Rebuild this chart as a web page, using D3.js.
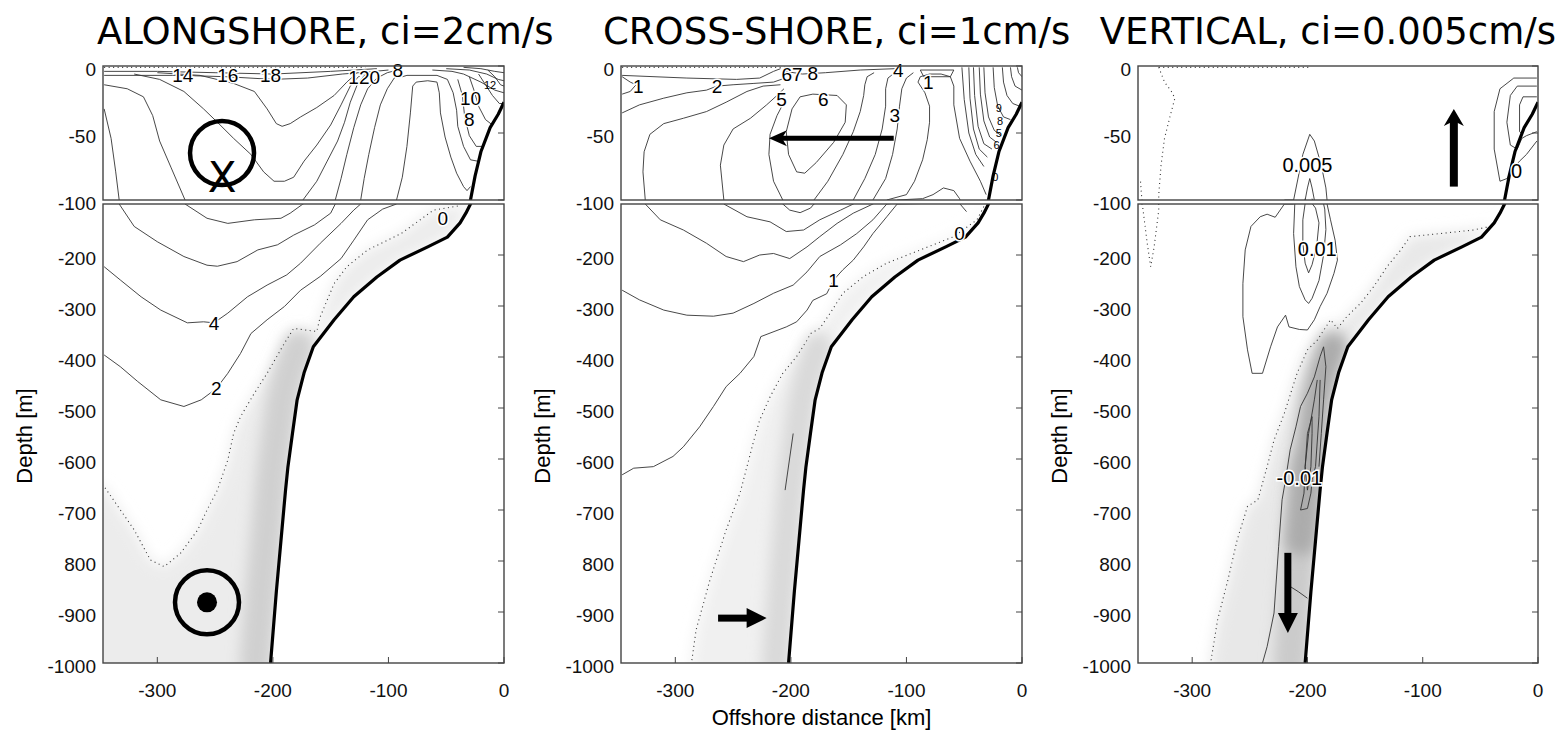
<!DOCTYPE html>
<html><head><meta charset="utf-8">
<script src="https://cdn.jsdelivr.net/npm/d3@7"></script>
<style>
body{margin:0;background:#fff;overflow:hidden;}
svg text{font-family:"Liberation Sans",Arial,Helvetica,sans-serif;}
</style></head><body>
<svg id="c" width="1564" height="733"></svg>
<script>
// ---------------- DATA ----------------
const titles = ["ALONGSHORE, ci=2cm/s", "CROSS-SHORE, ci=1cm/s", "VERTICAL, ci=0.005cm/s"];
const xDomain = [-347, 0];
const xTicks = [-300, -200, -100, 0];
const xTickLabels = ["-300", "-200", "-100", "0"];
const yTicksTop = [0, -50, -100];
const yTickLabelsTop = ["0", "-50", "-100"];
const yTicksBottom = [-200, -300, -400, -500, -600, -700, -800, -900, -1000];
const yTickLabelsBottom = ["-200", "-300", "-400", "-500", "-600", "-700", "800", "-900", "-1000"];
const yLabel = "Depth [m]";
const xLabel = "Offshore distance [km]";

// bathymetry [km, m]
const bathymetry = [[0,-27],[-5,-36],[-12,-46],[-20,-64],[-25,-82],[-29,-100],[-33,-118],[-38,-137],[-49,-165],[-66,-184],[-90,-210],[-110,-243],[-130,-282],[-147,-327],[-165,-380],[-173,-431],[-179,-484],[-183,-549],[-187,-616],[-189,-660],[-193,-760],[-197,-860],[-202,-1000]];

// ---- ALONGSHORE contours ----
const along_A = [[-346,-14],[-326,-17],[-312,-23],[-304,-37],[-298,-56],[-288,-76],[-276,-100],[-257,-128],[-239,-138],[-216,-131],[-193,-128],[-185,-118],[-174,-100],[-162,-86],[-153,-71],[-144,-56],[-138,-42],[-133,-27],[-127,-14],[-121,-7],[-112,-4],[-100,-3]];
const along_B = [[-346,-32],[-340,-54],[-336,-79],[-333,-100],[-320,-144],[-300,-174],[-277,-203],[-257,-220],[-248,-222],[-231,-213],[-213,-190],[-196,-180],[-182,-161],[-164,-141],[-150,-118],[-146,-100],[-141,-84],[-136,-66],[-130,-46],[-124,-29],[-118,-17],[-110,-9],[-101,-5],[-92,-3]];
const along_C = [[-346,-223],[-332,-249],[-314,-282],[-297,-308],[-274,-333],[-260,-331],[-251,-333],[-239,-314],[-222,-282],[-205,-259],[-188,-239],[-176,-216],[-159,-177],[-141,-138],[-130,-112],[-124,-100],[-121,-84],[-117,-66],[-112,-46],[-107,-29],[-101,-17],[-95,-9],[-89,-5]];
const along_D = [[-346,-396],[-332,-419],[-317,-448],[-297,-484],[-277,-497],[-262,-484],[-249,-462],[-239,-432],[-228,-393],[-219,-354],[-205,-327],[-190,-301],[-176,-269],[-159,-242],[-141,-207],[-130,-171],[-118,-131],[-105,-110],[-93,-100],[-88,-83],[-84,-60],[-81,-35],[-79,-15],[-76,-12],[-66,-11],[-58,-12],[-56,-20],[-55,-35],[-51,-53],[-46,-68],[-41,-80],[-35,-90],[-32,-93],[-29,-90]];
const along_bowlLow = [[-320,-6],[-298,-10],[-277,-19],[-260,-32],[-248,-42],[-234,-54],[-219,-66],[-208,-79],[-199,-86],[-190,-86],[-182,-83],[-173,-71],[-162,-59],[-150,-44],[-141,-29],[-133,-15],[-126,-8],[-118,-4]];
const along_bowlUp = [[-300,-5],[-263,-7],[-234,-13],[-216,-19],[-205,-32],[-197,-43],[-192,-45],[-185,-43],[-176,-38],[-162,-31],[-147,-22],[-136,-12],[-127,-5]];
const along_E = [[-88,-8],[-84,-7],[-58,-7],[-49,-10],[-44,-20],[-41,-33],[-40,-45],[-35,-60],[-29,-70],[-23,-71]];
const along_s1 = [[-346,-4],[-300,-4],[-250,-5],[-200,-6],[-150,-4],[-110,-2]];
const along_s2 = [[-346,-7],[-280,-7],[-240,-8],[-200,-10],[-170,-9],[-140,-6],[-110,-4]];
const along_f1 = [[-62,-3],[-45,-4],[-35,-6],[-20,-12],[-8,-18],[0,-20]];
const along_f2 = [[-50,-2],[-30,-3],[-15,-6],[-5,-10],[0,-11]];
const along_f3 = [[-35,-1],[-20,-2],[-8,-4],[0,-5]];
const along_f4 = [[-40,-10],[-36,-22],[-34,-38],[-30,-52],[-24,-60],[-18,-60]];
const along_f5 = [[-30,-8],[-26,-18],[-22,-30],[-16,-40],[-10,-44]];
const along_f6 = [[-22,-6],[-16,-14],[-10,-22],[-4,-28],[0,-28]];
const along_f7 = [[-14,-3],[-8,-8],[-3,-14],[0,-15]];
const along_zero = [[-40,-104],[-61,-112],[-89,-158],[-118,-190],[-136,-223],[-147,-256],[-159,-321],[-162,-350],[-182,-344],[-190,-373],[-205,-432],[-216,-471],[-228,-517],[-234,-550],[-239,-602],[-248,-661],[-257,-700],[-265,-739],[-280,-785],[-294,-811],[-306,-798],[-320,-739],[-342,-667],[-346,-654]];
const along_surfDot = [[-346,-1],[-120,-1]];
const along_labels = [["14",-278,-7],["16",-239,-7],["18",-202,-7],["120",-121,-8],["8",-92,-3],["10",-29,-24],["8",-30,-40],["4",-251,-333],["2",-249,-462],["0",-53,-128]];
const along_smallLabels = [["12",-12,-14]];
const alongInto = [-244,-65];
const alongIntoMark = [-244,-94];
const alongOut = [-257,-881];

// ---- CROSS-SHORE contours ----
const cross_b1 = [[-206,-27],[-212,-37],[-218,-51],[-219,-66],[-215,-86],[-207,-100],[-201,-112],[-192,-117],[-183,-108],[-180,-100],[-168,-86],[-155,-66],[-146,-49],[-140,-34],[-137,-22],[-136,-14],[-134,-8],[-128,-5]];
const cross_b2 = [[-206,-17],[-212,-22],[-221,-29],[-235,-39],[-250,-47],[-258,-59],[-261,-74],[-258,-100],[-238,-125],[-218,-135],[-204,-154],[-189,-151],[-175,-131],[-157,-112],[-146,-100],[-136,-84],[-127,-66],[-121,-47],[-118,-30],[-118,-17],[-116,-9],[-110,-5]];
const cross_b3 = [[-209,-14],[-224,-15],[-238,-19],[-256,-27],[-273,-34],[-293,-39],[-310,-43],[-322,-51],[-327,-64],[-328,-79],[-326,-100],[-313,-131],[-293,-151],[-273,-177],[-256,-203],[-241,-213],[-227,-200],[-215,-197],[-201,-207],[-186,-184],[-175,-164],[-160,-138],[-146,-118],[-129,-100],[-118,-84],[-112,-66],[-108,-47],[-106,-30],[-104,-17],[-100,-9],[-94,-5]];
const cross_4 = [[-346,-269],[-331,-288],[-310,-308],[-290,-318],[-267,-320],[-250,-314],[-232,-295],[-215,-275],[-198,-259],[-186,-233],[-175,-203],[-157,-180],[-143,-158],[-129,-131],[-117,-100],[-100,-96],[-93,-86],[-86,-70],[-82,-55],[-80,-42],[-80,-30],[-84,-20],[-90,-12],[-88,-8],[-80,-6],[-70,-6],[-62,-8],[-59,-15],[-59,-29],[-54,-54],[-45,-71],[-36,-86],[-31,-96]];
const cross_1 = [[-346,-631],[-336,-618],[-319,-615],[-302,-595],[-293,-576],[-279,-537],[-267,-497],[-256,-458],[-244,-432],[-232,-399],[-226,-360],[-204,-341],[-195,-331],[-186,-308],[-181,-289],[-169,-276],[-163,-249],[-155,-229],[-146,-210],[-137,-184],[-129,-158],[-117,-125],[-108,-100],[-86,-99],[-77,-96],[-68,-91],[-59,-93],[-54,-99],[-48,-115]];
const cross_loopL = [[-346,-8],[-339,-12],[-334,-14],[-339,-19],[-346,-21]];
const cross_2 = [[-346,-35],[-331,-29],[-310,-24],[-290,-20],[-273,-18],[-264,-15],[-250,-14],[-232,-13],[-215,-12],[-205,-9]];
const cross_surf = [[-346,-7],[-290,-9],[-247,-10],[-227,-9],[-215,-4],[-209,-2]];
const cross_6 = [[-195,-79],[-202,-66],[-204,-49],[-199,-32],[-192,-23],[-181,-21],[-160,-22],[-152,-29],[-153,-42],[-163,-57],[-178,-72],[-188,-80],[-195,-79]];
const cross_top = [[-205,-4],[-190,-6],[-170,-5],[-140,-3],[-110,-2]];
const cross_loopS = [[-88,-3],[-59,-3],[-62,-8],[-85,-8],[-88,-3]];
const cross_r1 = [[-52,-1],[-50,-25],[-46,-50],[-40,-66],[-33,-75]];
const cross_r2 = [[-46,-1],[-45,-24],[-42,-47],[-37,-62],[-30,-68]];
const cross_r3 = [[-42,-1],[-41,-22],[-38,-45],[-33,-58],[-26,-62]];
const cross_r4 = [[-37,-1],[-36,-21],[-33,-41],[-28,-53],[-22,-57]];
const cross_r5 = [[-33,-1],[-32,-20],[-29,-38],[-24,-48],[-18,-52]];
const cross_r6 = [[-25,-1],[-24,-16],[-21,-30],[-16,-38],[-10,-40]];
const cross_r7 = [[-17,-1],[-16,-12],[-13,-22],[-8,-28],[-2,-30]];
const cross_r8 = [[-10,-1],[-9,-8],[-6,-15],[0,-18]];
const cross_r9 = [[-4,-1],[-3,-5],[0,-8]];
const cross_seg = [[-198,-550],[-205,-661]];
const cross_zero = [[-33,-105],[-39,-131],[-59,-164],[-88,-190],[-117,-216],[-137,-242],[-155,-275],[-166,-314],[-175,-344],[-183,-354],[-186,-367],[-195,-399],[-207,-432],[-218,-478],[-227,-524],[-232,-563],[-238,-615],[-244,-667],[-256,-739],[-270,-837],[-282,-935],[-286,-1000]];
const cross_surfDot = [[-346,-1],[-200,-1]];
const cross_labels = [["1",-332,-15],["2",-264,-15],["67",-199,-6],["8",-181,-5],["5",-208,-25],["6",-172,-25],["4",-107,-3],["1",-81,-12],["3",-110,-37],["0",-54,-158],["1",-163,-249]];
const cross_smallLabels = [["9",-20,-31],["8",-19,-41],["5",-20,-50],["6",-22,-59],["0",-23,-83]];
const crossArrowTop = [[-111,-54],[-219,-54]];
const crossArrowBot = [[-263,-912],[-221,-912]];

// ---- VERTICAL contours ----
const vert_A = [[-212,-100],[-204,-66],[-198,-51],[-194,-56],[-188,-74],[-184,-91],[-183,-100],[-180,-131],[-176,-171],[-174,-210],[-177,-236],[-183,-275],[-189,-301],[-194,-327],[-200,-347],[-207,-346],[-216,-341],[-219,-318],[-226,-341],[-232,-380],[-239,-432],[-248,-432],[-252,-386],[-256,-321],[-256,-256],[-254,-190],[-249,-144],[-241,-125],[-235,-120],[-228,-126],[-220,-100],[-212,-100]];
const vert_Btop = [[-202,-100],[-200,-91],[-198,-84],[-196,-91],[-194,-100]];
const vert_B = [[-211,-100],[-212,-158],[-210,-223],[-207,-262],[-202,-288],[-199,-295],[-196,-285],[-190,-250],[-186,-200],[-184,-150],[-185,-110],[-186,-100]];
const vert_C = [[-202,-99],[-204,-131],[-204,-177],[-202,-216],[-199,-235],[-196,-219],[-192,-183],[-190,-137],[-193,-108],[-196,-99]];
const vert_N1 = [[-239,-1000],[-235,-968],[-229,-902],[-225,-772],[-222,-680],[-219,-641],[-215,-582],[-210,-537],[-206,-497],[-200,-471],[-194,-439],[-189,-399],[-186,-380],[-184,-419],[-186,-484],[-188,-550],[-190,-615]];
const vert_N1b = [[-215,-850],[-208,-860],[-200,-873]];
const vert_N2 = [[-191.5,-445],[-194,-484],[-199,-550],[-202,-615],[-203,-667],[-206,-700],[-200,-697],[-197,-667],[-196,-641],[-193,-615],[-190,-517],[-189,-445]];
const vert_N3 = [[-196,-517],[-200,-550],[-202,-615],[-200,-661],[-197,-615],[-196,-550],[-196,-517]];
const vert_O1 = [[-1,-9],[-21,-9],[-33,-17],[-38,-34],[-38,-62],[-33,-86],[-27,-84],[-21,-76],[-16,-71],[-10,-66],[-1,-56]];
const vert_O2 = [[-1,-15],[-18,-15],[-24,-22],[-27,-42],[-24,-59],[-18,-62],[-14,-54],[-10,-52],[-1,-49]];
const vert_O3 = [[-1,-23],[-13,-23],[-16,-29],[-16,-49],[-13,-51]];
const vert_zero = [[-38,-137],[-41.5,-144],[-56,-151],[-85,-158],[-111,-164],[-119,-190],[-131,-223],[-142.5,-262],[-154,-295],[-166,-321],[-174,-344],[-180,-327],[-184,-341],[-191.5,-367],[-200,-386],[-209,-432],[-220,-510],[-229,-563],[-235,-615],[-243,-680],[-252,-693],[-261,-759],[-269,-837],[-278,-916],[-284,-1000]];
const vert_surfDot = [[-329,-1],[-197,-1]];
const vert_leftDot = [[-329,-1],[-324,-12],[-318,-19],[-315,-24],[-319,-37],[-324,-54],[-327,-74],[-329,-96],[-329,-112],[-333,-184],[-336,-223],[-339,-177],[-343,-105],[-344,-96],[-345,-84]];
const vert_labels = [["0.005",-200,-74],["0.01",-191.5,-187],["-0.01",-207,-636],["0",-18.5,-78]];
const vertArrowUp = [[-73,-90],[-73,-32]];
const vertArrowDown = [[-217,-784],[-217,-941]];

// ---------------- LAYOUT / STYLE ----------------
const TOP = [66, 200], BOT = [204, 663];
const panelX = [[103, 504], [621, 1022], [1138, 1538]];

const panels = [
  { lines: [along_A, along_B, along_C, along_D, along_bowlLow, along_bowlUp, along_E, along_s1, along_s2, along_f1, along_f2, along_f3, along_f4, along_f5, along_f6, along_f7],
    dotted: [along_zero, along_surfDot], zero: along_zero, zeroLeftEdge: true,
    labels: along_labels, small: along_smallLabels, arrows: [], labelSize: 19,
    shade: {fill: "#ececec", cores: [{c: "#d0d0d0", from: -330, to: -1000, w: 32, shift: -15}]} },
  { lines: [cross_b1, cross_b2, cross_b3, cross_4, cross_1, cross_loopL, cross_2, cross_surf, cross_6, cross_top, cross_loopS, cross_r1, cross_r2, cross_r3, cross_r4, cross_r5, cross_r6, cross_r7, cross_r8, cross_r9, cross_seg],
    dotted: [cross_zero, cross_surfDot], zero: cross_zero, zeroLeftEdge: false,
    labels: cross_labels, small: cross_smallLabels, labelSize: 19,
    arrows: [{p: crossArrowTop, w: 5, L: 18, hw: 8, n: 5}, {p: crossArrowBot, w: 7, L: 20, hw: 10, n: 0}],
    shade: {fill: "#f0f0f0", cores: [{c: "#d9d9d9", from: -350, to: -1000, w: 28, shift: -13}]} },
  { lines: [vert_A, vert_Btop, vert_B, vert_C, vert_N1, vert_N1b, vert_N2, vert_N3, vert_O1, vert_O2, vert_O3],
    dotted: [vert_zero, vert_surfDot, vert_leftDot], zero: vert_zero, zeroLeftEdge: false,
    labels: vert_labels, small: [], labelSize: 20,
    arrows: [{p: vertArrowUp, w: 8, L: 17, hw: 10, n: 5}, {p: vertArrowDown, w: 7, L: 20, hw: 10, n: 0}],
    shade: {fill: "#e8e8e8", cores: [{c: "#cbcbcb", from: -600, to: -1000, w: 34, shift: -15}, {c: "#acacac", from: -380, to: -820, w: 30, shift: -15}]} }
];

const svg = d3.select("#c");
const defs = svg.append("defs");
function blur(id, s) {
  defs.append("filter").attr("id", id).attr("filterUnits", "userSpaceOnUse")
    .attr("x", 0).attr("y", 0).attr("width", 1564).attr("height", 733)
    .append("feGaussianBlur").attr("stdDeviation", s);
}
blur("blurA", 7); blur("blurB", 7);

// titles
const tstyle = s => s.style("font-family", "DejaVu Sans").style("font-size", "37px").attr("fill", "#000");
tstyle(svg.append("text").attr("x", 97).attr("y", 44).attr("text-anchor", "start").text(titles[0]));
tstyle(svg.append("text").attr("x", 603).attr("y", 44).attr("text-anchor", "start").text(titles[1]));
tstyle(svg.append("text").attr("x", 1556).attr("y", 44).attr("text-anchor", "end").text(titles[2]));

function drawArrow(g, sx, sy, tx, ty, a) {
  const dx = tx - sx, dy = ty - sy, len = Math.hypot(dx, dy);
  const ux = dx / len, uy = dy / len, px = -uy, py = ux;
  const bx = tx - ux * a.L, by = ty - uy * a.L;
  const nx = tx - ux * (a.L - a.n), ny = ty - uy * (a.L - a.n);
  g.append("line").attr("x1", sx).attr("y1", sy).attr("x2", nx + ux * 0.5).attr("y2", ny + uy * 0.5)
    .attr("stroke", "#000").attr("stroke-width", a.w);
  g.append("path").attr("d", `M${tx},${ty}L${bx + px * a.hw},${by + py * a.hw}L${nx},${ny}L${bx - px * a.hw},${by - py * a.hw}Z`).attr("fill", "#000");
}

panels.forEach((P, i) => {
  const x = d3.scaleLinear().domain(xDomain).range(panelX[i]);
  const yT = d3.scaleLinear().domain([0, -100]).range(TOP);
  const yB = d3.scaleLinear().domain([-100, -1000]).range(BOT);
  const yAny = d => d >= -100 ? yT(d) : yB(d);
  const [x0, x1] = panelX[i];

  defs.append("clipPath").attr("id", "cT" + i).append("rect").attr("x", x0).attr("y", TOP[0]).attr("width", x1 - x0).attr("height", TOP[1] - TOP[0]);
  defs.append("clipPath").attr("id", "cB" + i).append("rect").attr("x", x0).attr("y", BOT[0]).attr("width", x1 - x0).attr("height", BOT[1] - BOT[0]);
  const ocean = bathymetry.concat([[xDomain[0] - 60, -1000], [xDomain[0] - 60, -100]]);
  defs.append("clipPath").attr("id", "cO" + i).append("path")
    .attr("d", d3.line().x(p => x(p[0])).y(p => yB(p[1]))(ocean) + "Z");

  // ---- shading (bottom box) ----
  const gB0 = svg.append("g").attr("clip-path", `url(#cB${i})`);
  const gS = gB0.append("g").attr("clip-path", `url(#cO${i})`);
  const deep = bathymetry.filter(p => p[1] <= -100).slice().reverse();
  const last = P.zero[P.zero.length - 1];
  let region;
  if (P.zeroLeftEdge) {
    region = P.zero.concat([[xDomain[0] - 30, last[1]], [xDomain[0] - 30, -1040], [deep[0][0], -1040]], deep);
  } else {
    region = P.zero.concat([[last[0], -1040], [deep[0][0], -1040]], deep);
  }
  const lineB = d3.line().x(p => x(p[0])).y(p => yB(p[1]));
  gS.append("path").attr("d", lineB(region) + "Z").attr("fill", P.shade.fill).attr("filter", "url(#blurA)");
  P.shade.cores.forEach(cr => {
    gS.append("path").attr("d", lineB(bathymetry.filter(p => p[1] <= cr.from && p[1] >= cr.to)))
      .attr("fill", "none").attr("stroke", cr.c).attr("stroke-width", cr.w)
      .attr("stroke-linecap", "round")
      .attr("transform", `translate(${cr.shift},0)`).attr("filter", "url(#blurB)");
  });

  // ---- lines in both boxes ----
  [[yT, "cT" + i], [yB, "cB" + i]].forEach(([y, cid]) => {
    const g = svg.append("g").attr("clip-path", `url(#${cid})`);
    const line = d3.line().x(p => x(p[0])).y(p => y(p[1]));
    g.selectAll("path.c").data(P.lines).join("path").attr("class", "c")
      .attr("d", line).attr("fill", "none").attr("stroke", "#333").attr("stroke-width", 0.9).attr("stroke-linejoin", "round");
    g.selectAll("path.z").data(P.dotted).join("path").attr("class", "z")
      .attr("d", line).attr("fill", "none").attr("stroke", "#333").attr("stroke-width", 1.1).attr("stroke-dasharray", "1,3.5");
    g.append("path").attr("d", line(bathymetry)).attr("fill", "none").attr("stroke", "#000").attr("stroke-width", 3.2).attr("stroke-linejoin", "round");
  });

  // ---- contour labels ----
  const gl = svg.append("g");
  gl.selectAll("text.l").data(P.labels).join("text").attr("class", "l")
    .attr("x", d => x(d[1])).attr("y", d => yAny(d[2])).attr("dy", "0.36em").attr("text-anchor", "middle")
    .style("font-size", P.labelSize + "px").attr("fill", "#000")
    .attr("stroke", "#fff").attr("stroke-width", 3).attr("paint-order", "stroke")
    .text(d => d[0]);
  gl.selectAll("text.s").data(P.small).join("text").attr("class", "s")
    .attr("x", d => x(d[1])).attr("y", d => yAny(d[2])).attr("dy", "0.36em").attr("text-anchor", "middle")
    .style("font-size", "11px").attr("fill", "#000")
    .text(d => d[0]);

  // ---- frames ----
  svg.append("rect").attr("x", x0).attr("y", TOP[0]).attr("width", x1 - x0).attr("height", TOP[1] - TOP[0]).attr("fill", "none").attr("stroke", "#444").attr("stroke-width", 1.4);
  svg.append("rect").attr("x", x0).attr("y", BOT[0]).attr("width", x1 - x0).attr("height", BOT[1] - BOT[0]).attr("fill", "none").attr("stroke", "#444").attr("stroke-width", 1.4);

  // ---- ticks & labels ----
  const ga = svg.append("g").attr("fill", "#111").style("font-size", "19px");
  yTicksTop.forEach((t, k) => {
    ga.append("line").attr("x1", x1 - 6).attr("x2", x1).attr("y1", yT(t)).attr("y2", yT(t)).attr("stroke", "#444");
    ga.append("text").attr("x", x0 - 7).attr("y", yT(t) + 3).attr("dy", "0.36em").attr("text-anchor", "end").text(yTickLabelsTop[k]);
  });
  yTicksBottom.forEach((t, k) => {
    ga.append("line").attr("x1", x1 - 6).attr("x2", x1).attr("y1", yB(t)).attr("y2", yB(t)).attr("stroke", "#444");
    ga.append("text").attr("x", x0 - 7).attr("y", yB(t) + 3).attr("dy", "0.36em").attr("text-anchor", "end").text(yTickLabelsBottom[k]);
  });
  xTicks.forEach((t, k) => {
    ga.append("line").attr("x1", x(t)).attr("x2", x(t)).attr("y1", BOT[1] - 6).attr("y2", BOT[1]).attr("stroke", "#444");
    ga.append("text").attr("x", x(t)).attr("y", 697).attr("text-anchor", "middle").text(xTickLabels[k]);
  });
  svg.append("text").attr("transform", `translate(${x0 - 79},436) rotate(-90)`).attr("text-anchor", "middle")
    .attr("dy", "0.36em").style("font-size", "22px").text(yLabel);
  if (i === 1) {
    svg.append("text").attr("x", (x0 + x1) / 2).attr("y", 725).attr("text-anchor", "middle").style("font-size", "22px").text(xLabel);
  }

  // ---- arrows ----
  const gArr = svg.append("g");
  P.arrows.forEach(a => {
    drawArrow(gArr, x(a.p[0][0]), yAny(a.p[0][1]), x(a.p[1][0]), yAny(a.p[1][1]), a);
  });

  // ---- alongshore symbols ----
  if (i === 0) {
    const gm = svg.append("g");
    gm.append("circle").attr("cx", x(alongInto[0])).attr("cy", yT(alongInto[1])).attr("r", 32).attr("fill", "none").attr("stroke", "#000").attr("stroke-width", 4.5);
    gm.append("text").attr("x", x(alongIntoMark[0])).attr("y", yT(alongIntoMark[1])).attr("text-anchor", "middle")
      .style("font-family", "DejaVu Sans").style("font-size", "42px").text("X");
    gm.append("circle").attr("cx", x(alongOut[0])).attr("cy", yB(alongOut[1])).attr("r", 32).attr("fill", "none").attr("stroke", "#000").attr("stroke-width", 4.5);
    gm.append("circle").attr("cx", x(alongOut[0])).attr("cy", yB(alongOut[1])).attr("r", 10).attr("fill", "#000");
  }
});
</script>
</body></html>
